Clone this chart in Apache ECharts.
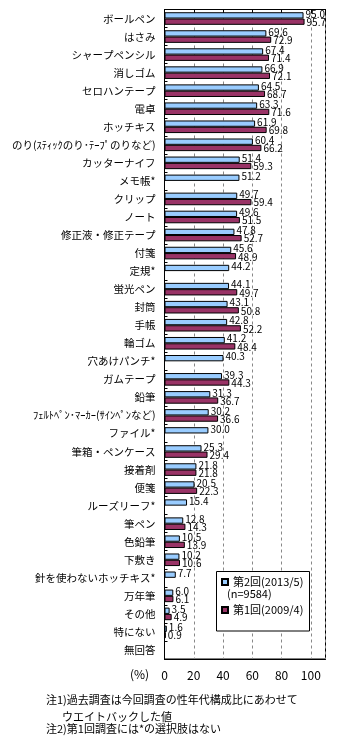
<!DOCTYPE html>
<html><head><meta charset="utf-8">
<script src="https://cdn.jsdelivr.net/npm/echarts@6/dist/echarts.min.js"></script>
<style>html,body{margin:0;padding:0;background:#fff}#c{width:363px;height:749px}</style>
</head><body><div id="c"></div>
<script>
const categories = ["ボールペン","はさみ","シャープペンシル","消しゴム","セロハンテープ","電卓","ホッチキス","のり(ｽﾃｨｯｸのり･ﾃｰﾌﾟのりなど)","カッターナイフ","メモ帳*","クリップ","ノート","修正液・修正テープ","付箋","定規*","蛍光ペン","封筒","手帳","輪ゴム","穴あけパンチ*","ガムテープ","鉛筆","ﾌｪﾙﾄﾍﾟﾝ･ﾏｰｶｰ(ｻｲﾝﾍﾟﾝなど)","ファイル*","筆箱・ペンケース","接着剤","便箋","ルーズリーフ*","筆ペン","色鉛筆","下敷き","針を使わないホッチキス*","万年筆","その他","特にない","無回答"];
const wave2 = [95.0,69.6,67.4,66.9,64.5,63.3,61.9,60.4,51.4,51.2,49.7,49.6,47.8,45.6,44.2,44.1,43.1,42.8,41.2,40.3,39.3,31.3,30.2,30.0,25.3,21.8,20.5,15.4,12.8,10.5,10.2,7.7,6.0,3.5,1.6,null];
const wave1 = [95.7,72.9,71.4,72.1,68.7,71.6,69.8,66.2,59.3,null,59.4,51.5,52.7,48.9,null,49.7,50.8,52.2,48.4,null,44.3,36.7,36.6,null,29.4,21.8,22.3,null,14.3,13.9,10.6,null,6.1,4.9,0.9,null];
const seriesNames = ["第2回(2013/5)","第1回(2009/4)"];
const sampleNote = "(n=9584)";
const xTicks = [0,20,40,60,80,100];
const notes = ["注1)過去調査は今回調査の性年代構成比にあわせて","ウエイトバックした値","注2)第1回調査には*の選択肢はない"];

const FONT = "'Noto Sans CJK JP', 'Noto Sans', sans-serif";
const chart = echarts.init(document.getElementById('c'), null, {renderer:'canvas'});
const lbl = (dy) => ({show:true, position:'right', distance:2, fontSize:10, color:'#000', fontFamily:FONT,
  offset:[0,dy], formatter:p => (p.value==null ? '' : Number(p.value).toFixed(1))});
chart.setOption({
  animation:false,
  textStyle:{fontFamily:FONT},
  grid:{left:164.5, top:9.5, right:37.5, bottom:90, show:true, borderColor:'#000', borderWidth:1},
  xAxis:[{
    type:'value', min:0, max:110, interval:20, position:'bottom',
    axisLine:{show:true, lineStyle:{color:'#000'}}, axisTick:{show:false},
    axisLabel:{color:'#000', fontSize:12, margin:10, formatter:v => xTicks.indexOf(v)>=0 ? String(v) : ''},
    splitLine:{show:true, lineStyle:{color:'#888', type:[3,3], width:1}}
  },{
    type:'value', min:0, max:110, interval:20, position:'top',
    axisLine:{show:true, lineStyle:{color:'#000'}}, axisTick:{show:true, inside:true, length:4, lineStyle:{color:'#000'}},
    axisLabel:{show:false}, splitLine:{show:false}
  }],
  yAxis:{
    type:'category', data:categories, inverse:true,
    axisLine:{show:true, lineStyle:{color:'#000'}},
    axisTick:{show:true, inside:true, length:3, lineStyle:{color:'#000'}},
    axisLabel:{color:'#000', fontSize:10.5, margin:9}
  },
  legend:{
    orient:'vertical', left:221, top:575, padding:0, itemGap:14, itemWidth:6, itemHeight:6, icon:'rect', z:20,
    data:seriesNames, textStyle:{color:'#000', fontSize:11, lineHeight:14}
  },
  graphic:[
    {type:'rect', z:15, shape:{x:216.5, y:571.5, width:93, height:59.5}, style:{fill:'#fff', stroke:'#000', lineWidth:1}},
    {type:'text', z:20, left:227, top:588, style:{text:sampleNote, fill:'#000', font:"11px "+FONT}},
    {type:'text', left:130, top:668, style:{text:'(%)', fill:'#000', font:"12px "+FONT}},
    {type:'text', left:46, top:694, style:{text:notes[0], fill:'#000', font:"11px "+FONT}},
    {type:'text', left:62, top:711, style:{text:notes[1], fill:'#000', font:"11px "+FONT}},
    {type:'text', left:46, top:723, style:{text:notes[2], fill:'#000', font:"11px "+FONT}}
  ],
  series:[
    {name:seriesNames[0], type:'bar', data:wave2, barWidth:6.3, barGap:'0%',
     itemStyle:{color:'#99CCFF', borderColor:'#000', borderWidth:1}, label:lbl(-1.5)},
    {name:seriesNames[1], type:'bar', data:wave1, barWidth:6.3, barGap:'0%',
     itemStyle:{color:'#993366', borderColor:'#000', borderWidth:1}, label:lbl(0.5)}
  ]
});
</script></body></html>
